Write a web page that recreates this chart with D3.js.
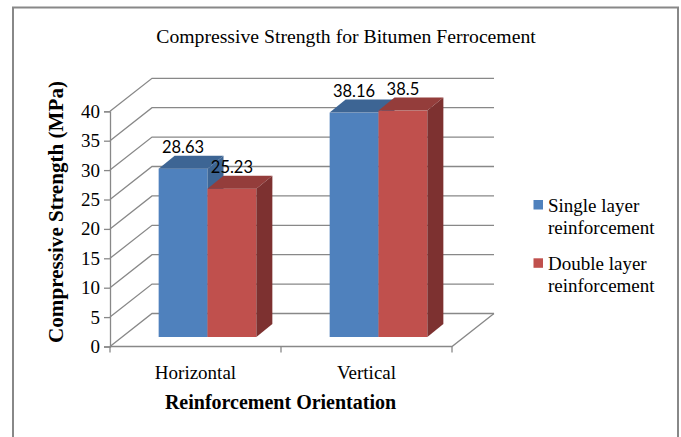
<!DOCTYPE html>
<html>
<head>
<meta charset="utf-8">
<script src="https://cdn.jsdelivr.net/npm/d3@7/dist/d3.min.js"></script>
<style>
  html, body { margin: 0; padding: 0; background: #fff; }
  svg { display: block; }
  text { fill: #000; }
</style>
</head>
<body>
<svg id="chart" width="681" height="437"></svg>
<script>
const categories = ["Horizontal", "Vertical"];
const seriesNames = ["Single layer reinforcement", "Double layer reinforcement"];
const singleLayer = [28.63, 38.16];
const doubleLayer = [25.23, 38.5];
const yTicks = [0, 5, 10, 15, 20, 25, 30, 35, 40];
const chartTitle = "Compressive Strength for Bitumen Ferrocement";
const yTitle = "Compressive Strength (MPa)";
const xTitle = "Reinforcement Orientation";

const serif = "Liberation Serif, Times New Roman, serif";
const sans = "Lato, Liberation Sans, sans-serif";

const svg = d3.select("#chart");

// frame
svg.append("rect").attr("x", 13).attr("y", 7.5).attr("width", 665).attr("height", 450)
  .attr("fill", "#fff").attr("stroke", "#888").attr("stroke-width", 2);

// geometry
const x0 = 110, x1 = 452;
const depth = {dx: 42, dy: -33};      // full floor depth
const barOff = {dx: 12, dy: -9.5};    // bar front offset into the depth
const barDepth = {dx: 16, dy: -13};   // bar depth

const y = d3.scaleLinear().domain([0, 40]).range([346.5, 111.3]);
const xBand = d3.scaleBand().domain(categories).range([x0, x1]).paddingInner(0.4287).paddingOuter(0.2143);
const xSeries = d3.scaleBand().domain(seriesNames).range([0, xBand.bandwidth()]);

const gridColor = "#888";
const g = svg.append("g");
const pts = a => a.map(p => p.join(",")).join(" ");

// back wall gridlines + diagonals
yTicks.forEach(t => {
  const yy = y(t);
  g.append("polyline")
    .attr("points", pts([[x0, yy], [x0 + depth.dx, yy + depth.dy], [x1 + depth.dx, yy + depth.dy]]))
    .attr("fill", "none").attr("stroke", gridColor).attr("stroke-width", 1.3);
});
// floor
g.append("polyline")
  .attr("points", pts([[x0, y(0)], [x1, y(0)], [x1 + depth.dx, y(0) + depth.dy]]))
  .attr("fill", "none").attr("stroke", gridColor).attr("stroke-width", 1.3);

// y axis
const yAxis = d3.axisLeft(y).tickValues(yTicks).tickSize(6).tickPadding(4);
const ya = svg.append("g").attr("transform", `translate(${x0},0)`).call(yAxis);
ya.attr("font-family", serif).attr("font-size", 19);
ya.select(".domain").attr("stroke", gridColor).attr("stroke-width", 1.3);
ya.selectAll(".tick line").attr("stroke", gridColor).attr("stroke-width", 1.3);
ya.selectAll(".tick text").attr("fill", "#000");

// x axis category ticks
const catEdges = [x0].concat(categories.map(c => xBand(c) - xBand.step() * xBand.paddingInner() / 2 + xBand.step()));
catEdges.forEach(xx => {
  g.append("line").attr("x1", xx).attr("x2", xx).attr("y1", y(0)).attr("y2", y(0) + 6)
    .attr("stroke", gridColor).attr("stroke-width", 1.3);
});
categories.forEach(c => {
  svg.append("text").attr("x", xBand(c) + xBand.bandwidth() / 2).attr("y", 379)
    .attr("text-anchor", "middle").attr("font-family", serif).attr("font-size", 19).text(c);
});

// bars
const series = [
  {name: seriesNames[0], values: singleLayer, front: "#4F81BD", top: "#3D6594", side: "#3D6594"},
  {name: seriesNames[1], values: doubleLayer, front: "#C0504D", top: "#943D3B", side: "#7D3130"}
];
const bars = svg.append("g");
categories.forEach((c, ci) => {
  series.forEach(s => {
    const v = s.values[ci];
    const bx = xBand(c) + xSeries(s.name) + barOff.dx;
    const bw = xSeries.bandwidth();
    const by0 = y(0) + barOff.dy;
    const byt = y(v) + barOff.dy;
    bars.append("rect").attr("x", bx).attr("y", byt).attr("width", bw).attr("height", by0 - byt).attr("fill", s.front);
    bars.append("polygon").attr("points", pts([[bx, byt], [bx + barDepth.dx, byt + barDepth.dy], [bx + bw + barDepth.dx, byt + barDepth.dy], [bx + bw, byt]]))
      .attr("fill", s.top);
    bars.append("polygon").attr("points", pts([[bx + bw, byt], [bx + bw + barDepth.dx, byt + barDepth.dy], [bx + bw + barDepth.dx, by0 + barDepth.dy], [bx + bw, by0]]))
      .attr("fill", s.side);
  });
});
// data labels
categories.forEach((c, ci) => {
  series.forEach(s => {
    const v = s.values[ci];
    const bx = xBand(c) + xSeries(s.name) + barOff.dx;
    const bw = xSeries.bandwidth();
    svg.append("text").attr("x", bx + bw / 2).attr("y", y(v) + barOff.dy + barDepth.dy - 2.5)
      .attr("text-anchor", "middle").attr("font-family", sans).attr("font-size", 16.5).text(String(v));
  });
});

// title
svg.append("text").attr("x", 346).attr("y", 43).attr("text-anchor", "middle")
  .attr("font-family", serif).attr("font-size", 19.7).text(chartTitle);
// axis titles
svg.append("text").attr("transform", "translate(63,212) rotate(-90)").attr("text-anchor", "middle")
  .attr("font-family", serif).attr("font-size", 20).attr("font-weight", "bold")
  .attr("textLength", 262).attr("lengthAdjust", "spacingAndGlyphs").text(yTitle);
svg.append("text").attr("x", 280.5).attr("y", 409).attr("text-anchor", "middle")
  .attr("font-family", serif).attr("font-size", 20).attr("font-weight", "bold").text(xTitle);

// legend
const legend = svg.append("g");
const legendLines = [["Single layer", "reinforcement"], ["Double layer", "reinforcement"]];
series.forEach((s, i) => {
  const top = 200 + i * 58.3;
  legend.append("rect").attr("x", 533.5).attr("y", top).attr("width", 9.5).attr("height", 9.5).attr("fill", s.front);
  legendLines[i].forEach((ln, j) => {
    legend.append("text").attr("x", 548).attr("y", top + 12 + j * 21.7)
      .attr("font-family", serif).attr("font-size", 19).text(ln);
  });
});
</script>
</body>
</html>
